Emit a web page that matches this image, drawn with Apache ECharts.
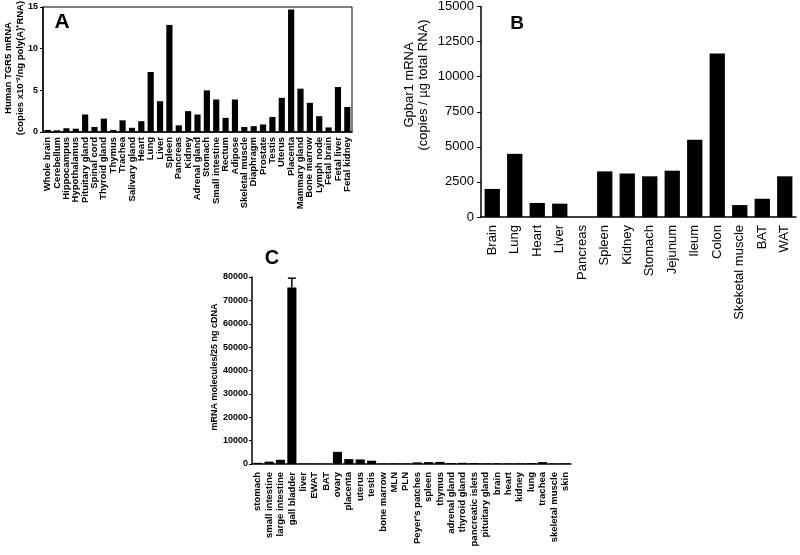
<!DOCTYPE html>
<html><head><meta charset="utf-8">
<script src="https://cdn.jsdelivr.net/npm/echarts@6/dist/echarts.min.js"></script>
<style>html,body{margin:0;background:#fff}#c{width:800px;height:555px}</style>
</head><body><div id="c"></div><script>
const catsA = ['Whole brain','Cerebellum','Hippocampus','Hypothalamus','Pituitary gland','Spinal cord','Thyroid gland','Thymus','Trachea','Salivary gland','Heart','Lung','Liver','Spleen','Pancreas','Kidney','Adrenal gland','Stomach','Small intestine','Rectum','Adipose','Skeletal muscle','Diaphragm','Prostate','Testis','Uterus','Placenta','Mammary gland','Bone marrow','Lymph node','Fetal brain','Fetal liver','Fetal kidney'];
const valsA = [0.25,0.2,0.45,0.4,2.1,0.6,1.6,0.25,1.4,0.5,1.3,7.2,3.7,12.85,0.8,2.5,2.1,5.0,3.9,1.7,3.9,0.6,0.7,0.9,1.8,4.1,14.7,5.2,3.5,1.9,0.55,5.4,3.0];
const ticksA = [0,5,10,15];

const catsB = ['Brain','Lung','Heart','Liver','Pancreas','Spleen','Kidney','Stomach','Jejunum','Ileum','Colon','Skeketal muscle','BAT','WAT'];
const valsB = [2000,4500,1000,950,0,3250,3100,2900,3300,5500,11650,850,1300,2900];
const ticksB = [0,2500,5000,7500,10000,12500,15000];

const catsC = ['stomach','small intestine','large intestine','gall bladder','liver','EWAT','BAT','ovary','placenta','uterus','testis','bone marrow','MLN','PLN',"Peyer's patches",'spleen','thymus','adrenal gland','thyroid gland','pancreatic islets','pituitary gland','brain','heart','kidney','lung','trachea','skeletal muscle','skin'];
const valsC = [500,1000,1800,75500,200,150,150,5200,2100,1950,1400,200,300,250,700,800,900,400,500,400,300,300,250,300,400,800,200,300];
const errC  = [0,0,0,4000,0,0,0,0,0,0,0,0,0,0,0,0,0,0,0,0,0,0,0,0,0,0,0,0];
const ticksC = [0,10000,20000,30000,40000,50000,60000,70000,80000];

const F = '"Liberation Sans", Arial, Helvetica, sans-serif';
const chart = echarts.init(document.getElementById('c'), null, {renderer:'canvas'});
const boldLab = {fontSize:9.5, fontWeight:'bold', color:'#000', fontFamily:F};
const boldTick = {fontSize:9, fontWeight:'bold', color:'#000', fontFamily:F, formatter: v => String(v)};
const normLab = {fontSize:13, color:'#000', fontFamily:F};
const normTick = {fontSize:13, color:'#000', fontFamily:F, formatter: v => String(v)};
const blackLine = w => ({lineStyle:{color:'#000', width:w}});

chart.setOption({
  animation:false,
  backgroundColor:'#fff',
  grid:[
    {left:43, top:7, width:309, height:125, show:true, borderColor:'#000', borderWidth:1, backgroundColor:'transparent'},
    {left:481, top:5, width:315, height:212},
    {left:252, top:277, width:319, height:187}
  ],
  xAxis:[
    {gridIndex:0, type:'category', data:catsA, axisLine:blackLine(1.5),
     axisTick:{alignWithLabel:true, length:3, lineStyle:{color:'#000'}},
     axisLabel:Object.assign({rotate:90, interval:0, margin:5}, boldLab)},
    {gridIndex:1, type:'category', data:catsB, axisLine:blackLine(1.5), axisTick:{show:false},
     axisLabel:Object.assign({rotate:90, interval:0, margin:8}, normLab)},
    {gridIndex:2, type:'category', data:catsC, axisLine:blackLine(1.5),
     axisTick:{alignWithLabel:true, length:4, lineStyle:{color:'#000', width:1.2}},
     axisLabel:Object.assign({rotate:90, interval:0, margin:8}, boldLab)}
  ],
  yAxis:[
    {gridIndex:0, type:'value', min:ticksA[0], max:ticksA[ticksA.length-1], interval:5, splitLine:{show:false},
     axisLine:Object.assign({show:true}, blackLine(1.5)), axisTick:{show:true, length:3, lineStyle:{color:'#000'}},
     axisLabel:Object.assign({margin:5}, boldTick)},
    {gridIndex:1, type:'value', min:ticksB[0], max:ticksB[ticksB.length-1], interval:2500, splitLine:{show:false},
     axisLine:Object.assign({show:true}, blackLine(1.5)), axisTick:{show:true, length:4, lineStyle:{color:'#000'}},
     axisLabel:Object.assign({margin:7}, normTick)},
    {gridIndex:2, type:'value', min:ticksC[0], max:ticksC[ticksC.length-1], interval:10000, splitLine:{show:false},
     axisLine:Object.assign({show:true}, blackLine(1.5)), axisTick:{show:true, length:3, lineStyle:{color:'#000'}},
     axisLabel:Object.assign({margin:4}, boldTick)}
  ],
  series:[
    {type:'bar', xAxisIndex:0, yAxisIndex:0, data:valsA, barWidth:'66%', itemStyle:{color:'#000'}},
    {type:'bar', xAxisIndex:1, yAxisIndex:1, data:valsB, barWidth:'68%', itemStyle:{color:'#000'}},
    {type:'bar', xAxisIndex:2, yAxisIndex:2, data:valsC, barWidth:'80%', itemStyle:{color:'#000'}},
    {type:'custom', xAxisIndex:2, yAxisIndex:2, z:5,
     data:valsC.map((v,i)=>[i, v, v+errC[i]]),
     renderItem:function(params, api){
       const i = api.value(0), v = api.value(1), t = api.value(2);
       if (t <= v) return null;
       const p0 = api.coord([i, v]), p1 = api.coord([i, t]);
       const hw = 4;
       return {type:'group', children:[
         {type:'line', shape:{x1:p0[0], y1:p0[1], x2:p1[0], y2:p1[1]}, style:{stroke:'#000', lineWidth:1.5}},
         {type:'line', shape:{x1:p1[0]-hw, y1:p1[1], x2:p1[0]+hw, y2:p1[1]}, style:{stroke:'#000', lineWidth:1.5}}
       ]};
     }}
  ],
  graphic:[
    {type:'text', x:62, y:22, style:{text:'A', font:'bold 21px '+F, fill:'#000', align:'center', verticalAlign:'middle'}},
    {type:'text', x:517, y:24, style:{text:'B', font:'bold 19px '+F, fill:'#000', align:'center', verticalAlign:'middle'}},
    {type:'text', x:272, y:258, style:{text:'C', font:'bold 20px '+F, fill:'#000', align:'center', verticalAlign:'middle'}},
    {type:'text', x:14, y:68, rotation:Math.PI/2, style:{text:'Human TGR5 mRNA\n(copies x10\u207B\u00B2/ng poly(A)\u207ARNA)', font:'bold 9.5px '+F, lineHeight:12, fill:'#000', align:'center', verticalAlign:'middle'}},
    {type:'text', x:416, y:85, rotation:Math.PI/2, style:{text:'Gpbar1 mRNA\n(copies / \u00B5g total RNA)', font:'13px '+F, lineHeight:14, fill:'#000', align:'center', verticalAlign:'middle'}},
    {type:'text', x:215, y:367, rotation:Math.PI/2, style:{text:'mRNA molecules/25 ng cDNA', font:'bold 9px '+F, fill:'#000', align:'center', verticalAlign:'middle'}}
  ]
});
</script></body></html>
